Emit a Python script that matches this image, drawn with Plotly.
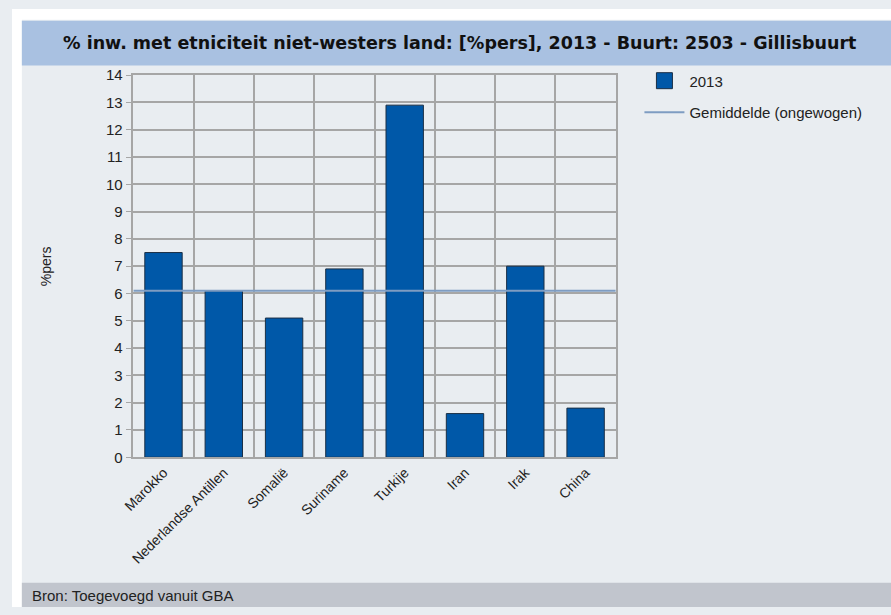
import plotly.graph_objects as go

categories = ["Marokko", "Nederlandse Antillen", "Somalië", "Suriname", "Turkije", "Iran", "Irak", "China"]
values_2013 = [7.5, 6.1, 5.1, 6.9, 12.9, 1.6, 7.0, 1.8]
average_value = 6.1
y_ticks = list(range(0, 15))

W, H = 891, 615


def px(x):
    return x / W


def py(y):
    return 1 - y / H


x0, x1 = 123, 612
y0, y1 = 68, 461
bar_color = "#0058a8"
bar_edge = "#1b2f45"

fig = go.Figure()
fig.add_trace(go.Bar(
    x=categories, y=values_2013, name="2013", showlegend=False,
    marker=dict(color=bar_color, line=dict(color=bar_edge, width=1)),
    width=0.62,
))
# legend entry for the bars (larger square symbol)
fig.add_trace(go.Scatter(
    x=[None], y=[None], xaxis="x2", mode="markers", name="2013", legendgroup="a",
    marker=dict(symbol="square", size=16, color=bar_color, line=dict(color=bar_edge, width=1)),
))
fig.add_trace(go.Scatter(
    x=[0, 1], y=[average_value, average_value], xaxis="x2", yaxis="y",
    mode="lines", name="Gemiddelde (ongewogen)", legendgroup="b",
    line=dict(color="#7e9cc2", width=2),
))

fig.update_layout(
    width=W, height=H,
    margin=dict(l=0, r=0, t=0, b=0),
    paper_bgcolor="#e9edf1", plot_bgcolor="#e9edf1",
    font=dict(family="Liberation Sans, Arial", size=14, color="#222"),
    showlegend=True,
    legend=dict(x=px(636), y=py(57), xanchor="left", yanchor="top",
                bgcolor="rgba(0,0,0,0)", font=dict(size=15, color="#222"),
                traceorder="grouped", tracegroupgap=9, itemwidth=40, itemsizing="trace"),
    xaxis=dict(domain=[px(x0), px(x1)], type="category", tickson="boundaries",
               showgrid=True, gridcolor="#a6a6a6", gridwidth=1.5,
               showline=True, linecolor="#a6a6a6", linewidth=1.5, mirror=True,
               tickangle=-45, ticks="", tickfont=dict(size=14, color="#222")),
    xaxis2=dict(domain=[px(x0), px(x1)], range=[0, 1], overlaying="x", visible=False,
                anchor="y"),
    yaxis=dict(domain=[py(y1), py(y0)], range=[0, 14], tickvals=y_ticks,
               showgrid=True, gridcolor="#a6a6a6", gridwidth=1.5,
               showline=True, linecolor="#a6a6a6", linewidth=1.5, mirror=True,
               ticks="outside", ticklen=6, tickcolor="#a6a6a6",
               tickfont=dict(size=15, color="#222"), zeroline=False),
    shapes=[
        dict(type="rect", xref="paper", yref="paper", x0=0, x1=1, y0=py(11), y1=1,
             fillcolor="white", line=dict(width=0), layer="below"),
        dict(type="rect", xref="paper", yref="paper", x0=0, x1=px(10), y0=0, y1=1,
             fillcolor="white", line=dict(width=0), layer="below"),
        dict(type="rect", xref="paper", yref="paper", x0=px(10), x1=1, y0=py(58), y1=py(12),
             fillcolor="#a9c1e1", line=dict(width=0), layer="below"),
        dict(type="rect", xref="paper", yref="paper", x0=px(10), x1=1, y0=0, y1=py(590),
             fillcolor="#c1c5cd", line=dict(width=0), layer="below"),
    ],
    annotations=[
        dict(text="<b>% inw. met etniciteit niet-westers land: [%pers], 2013 - Buurt: 2503 - Gillisbuurt</b>",
             xref="paper", yref="paper", x=px(454), y=py(35), showarrow=False,
             xanchor="center", yanchor="middle",
             font=dict(family="DejaVu Sans", size=17.5, color="#111")),
        dict(text="%pers", xref="paper", yref="paper", x=px(34), y=py(265), showarrow=False,
             textangle=-90, xanchor="center", yanchor="middle", font=dict(size=14, color="#222")),
        dict(text="Bron: Toegevoegd vanuit GBA", xref="paper", yref="paper", x=px(18), y=py(603),
             showarrow=False, xanchor="left", yanchor="middle", font=dict(size=15, color="#222")),
    ],
)

fig.write_html("out.html")
